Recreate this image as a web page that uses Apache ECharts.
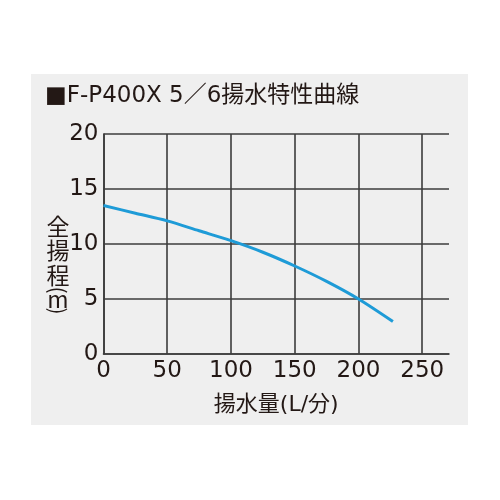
<!DOCTYPE html>
<html><head><meta charset="utf-8">
<script src="https://cdn.jsdelivr.net/npm/echarts@6/dist/echarts.min.js"></script>
<style>html,body{margin:0;padding:0;background:#fff}#c{width:500px;height:500px}</style>
</head><body><div id="c"></div>
<script>
const titleText = '■F-P400X 5／6揚水特性曲線';
const xName = '揚水量(L/分)';
const yNameChars = ['全', '揚', '程', '(', 'm', ')'];
const flow = [0, 25, 50, 75, 100, 125, 150, 175, 200, 227];
const head = [13.5, 12.8, 12.1, 11.2, 10.3, 9.25, 8.0, 6.6, 5.0, 2.95];

const font = '"DejaVu Sans", "Noto Sans CJK JP", sans-serif';
const cjk = '"Noto Sans CJK JP", sans-serif';
const ink = '#231815';

// vertical axis title: upright characters, brackets turned to vertical form
const yNameY = [226, 250, 275, 290, 299, 311];
const yNameGraphics = yNameChars.map((c, i) => {
  const bracket = (c === '(' || c === ')');
  return {
    type: 'text', silent: true,
    x: 58, y: yNameY[i],
    rotation: bracket ? -Math.PI / 2 : 0,
    style: {
      text: c, fill: ink,
      font: (bracket ? '21px ' : (c === 'm' ? '23px ' : '23px ')) + cjk,
      textAlign: 'center', textVerticalAlign: 'middle'
    }
  };
});

const chart = echarts.init(document.getElementById('c'));
chart.setOption({
  backgroundColor: '#ffffff',
  animation: false,
  graphic: [{
    type: 'rect', z: -10, silent: true,
    shape: {x: 31, y: 74, width: 437, height: 351},
    style: {fill: '#efefef'}
  }].concat(yNameGraphics),
  title: {
    text: titleText, left: 40, top: 80,
    textStyle: {fontFamily: font, fontSize: 23, fontWeight: 'normal', color: ink}
  },
  grid: {left: 103.5, right: 51, top: 134, bottom: 146},
  xAxis: {
    type: 'value', min: 0, max: 271, interval: 50,
    name: xName, nameLocation: 'middle', nameGap: 40,
    nameTextStyle: {fontFamily: font, fontSize: 22, color: ink},
    axisLine: {show: true, lineStyle: {color: '#3c3c3c', width: 1.6}},
    axisTick: {show: false},
    axisLabel: {fontFamily: font, fontSize: 23, color: ink, margin: 6, showMaxLabel: false},
    splitLine: {show: true, showMaxLine: false, lineStyle: {color: '#3c3c3c', width: 1.6}}
  },
  yAxis: {
    type: 'value', min: 0, max: 20, interval: 5,
    axisLine: {show: true, lineStyle: {color: '#3c3c3c', width: 1.6}},
    axisTick: {show: false},
    axisLabel: {fontFamily: font, fontSize: 23, color: ink, margin: 5},
    splitLine: {show: true, lineStyle: {color: '#3c3c3c', width: 1.6}}
  },
  series: [{
    type: 'line', smooth: 0.3, symbol: 'none',
    data: flow.map((f, i) => [f, head[i]]),
    lineStyle: {color: '#1e9bd7', width: 3}
  }]
});
</script></body></html>
